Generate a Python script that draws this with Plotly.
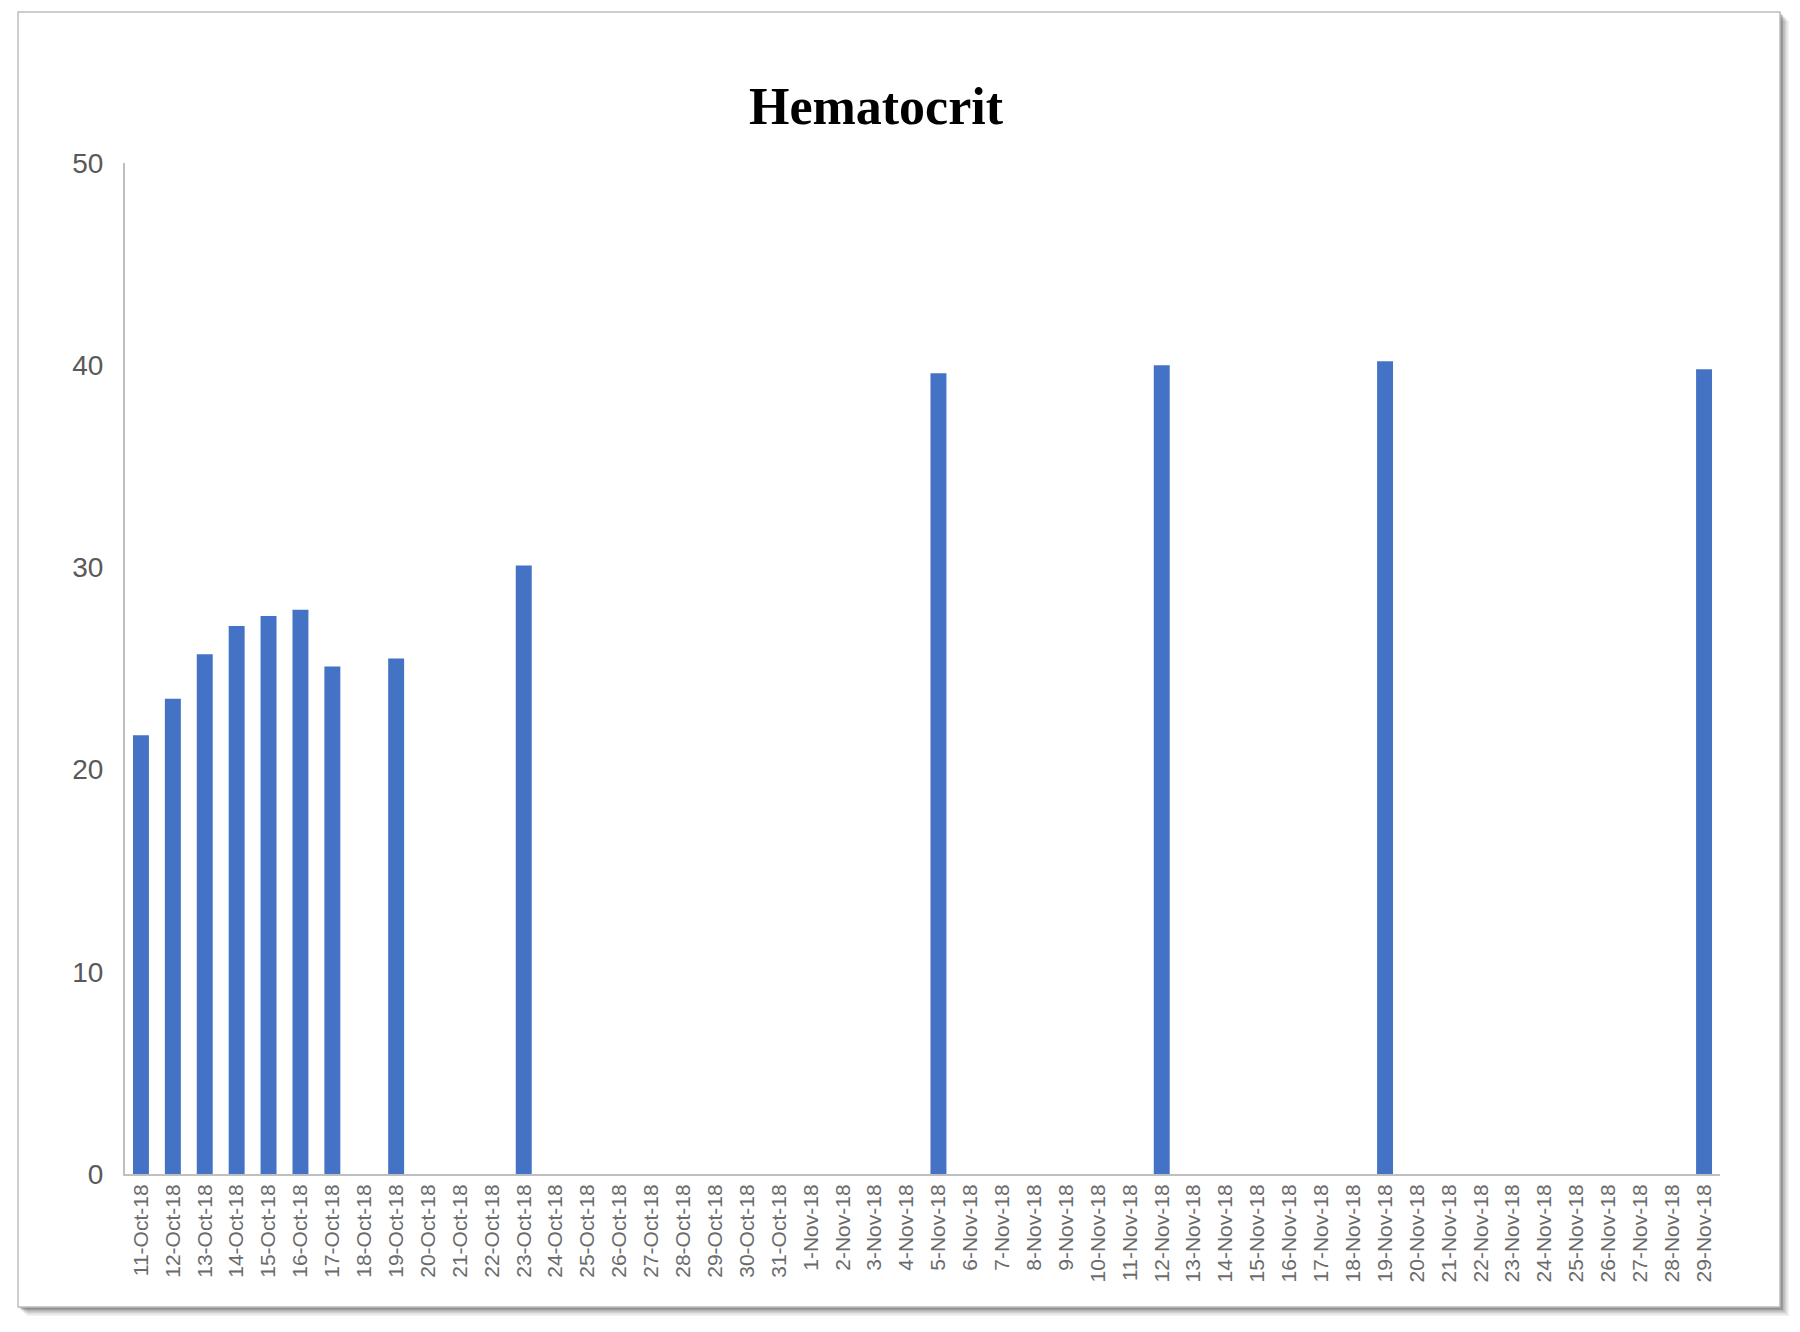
import plotly.graph_objects as go

# Hematocrit readings, 11-Oct-18 .. 29-Nov-18 (blank days left as None)
oct_days = [f"{d}-Oct-18" for d in range(11, 32)]
nov_days = [f"{d}-Nov-18" for d in range(1, 30)]
dates = oct_days + nov_days

oct_values = [21.7, 23.5, 25.7, 27.1, 27.6, 27.9, 25.1, None, 25.5, None,
              None, None, 30.1, None, None, None, None, None, None, None, None]
nov_values = [None, None, None, None, 39.6, None, None, None, None, None,
              None, 40.0, None, None, None, None, None, None, 40.2, None,
              None, None, None, None, None, None, None, None, 39.8]
hematocrit = oct_values + nov_values

y_ticks = [0, 10, 20, 30, 40, 50]

# page body has an 8px margin, so work in page pixels minus 8
OFF = 8
W, H = 1800 - OFF, 1332 - OFF
L, R, T, B = 125 - OFF, 80, 163 - OFF, 166 - OFF
pw, ph = W - L - R, H - T - B


def px(x):
    return (x - OFF - L) / pw


def py(y):
    return (H - B - (y - OFF)) / ph


fig = go.Figure()
fig.add_trace(go.Bar(x=dates, y=hematocrit, marker_color="#4472C4",
                     marker_line_width=0))

shapes = []
# soft drop shadow of the card
for i, op in enumerate([0.08, 0.10, 0.14, 0.20, 0.28, 0.36]):
    off = 9 - i * 1.5
    shapes.append(dict(type="rect", xref="paper", yref="paper",
                       x0=px(18 + off), x1=px(1780 + off),
                       y0=py(1307 + off), y1=py(12 + off),
                       fillcolor=f"rgba(90,90,90,{op})", line_width=0,
                       layer="below"))
shapes.append(dict(type="rect", xref="paper", yref="paper",
                   x0=px(18), x1=px(1780), y0=py(1307), y1=py(12),
                   fillcolor="white", line=dict(color="#BDBDBD", width=1.5),
                   layer="below"))

fig.update_layout(
    width=W, height=H,
    margin=dict(l=L, r=R, t=T, b=B),
    paper_bgcolor="white", plot_bgcolor="rgba(0,0,0,0)",
    title=dict(text="<b>Hematocrit</b>", x=(876 - OFF) / W, xref="container",
               xanchor="center", y=1 - (106 - OFF) / H, yanchor="middle",
               font=dict(family="Liberation Serif", size=52, color="black")),
    bargap=0.5,
    showlegend=False,
    shapes=shapes,
    xaxis=dict(type="category", categoryorder="array", categoryarray=dates,
               tickangle=-90, showgrid=False, showline=True,
               linecolor="#BFBFBF", linewidth=2, ticks="",
               tickfont=dict(family="Liberation Sans", size=21, color="#6b6b6b")),
    yaxis=dict(range=[0, 50], tickvals=y_ticks, showgrid=False, showline=True,
               linecolor="#BFBFBF", linewidth=2, zeroline=False, ticks="",
               ticklabelstandoff=14,
               tickfont=dict(family="Liberation Sans", size=28, color="#595959")),
)

fig.write_html("out.html")
